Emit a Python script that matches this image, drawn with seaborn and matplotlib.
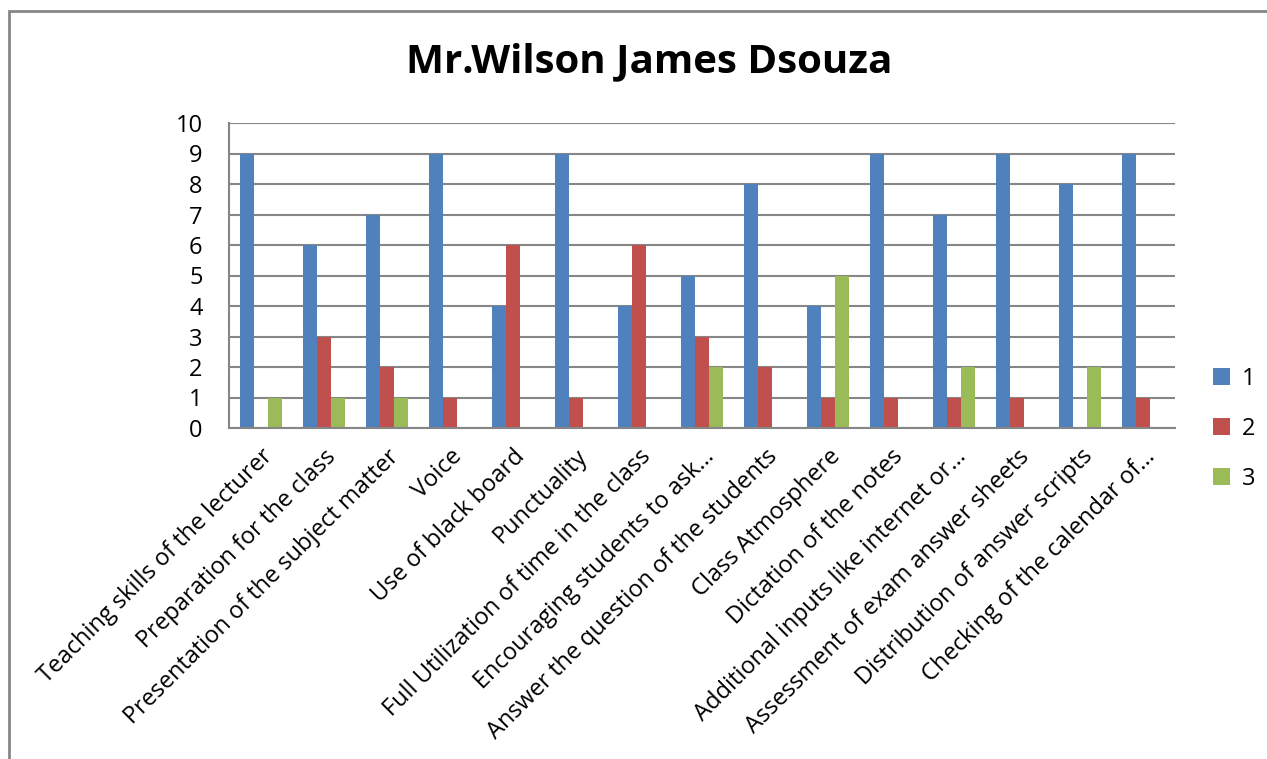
import matplotlib
matplotlib.use("Agg")
import matplotlib.pyplot as plt
import seaborn as sns
import pandas as pd
from matplotlib.patches import Rectangle

categories = [
    "Teaching skills of the lecturer",
    "Preparation for the class",
    "Presentation of the subject matter",
    "Voice",
    "Use of black board",
    "Punctuality",
    "Full Utilization of time in the class",
    "Encouraging students to ask…",
    "Answer the question of the students",
    "Class Atmosphere",
    "Dictation of the notes",
    "Additional inputs like internet or…",
    "Assessment of exam answer sheets",
    "Distribution of answer scripts",
    "Checking of the calendar of…",
]
series_1 = [9, 6, 7, 9, 4, 9, 4, 5, 8, 4, 9, 7, 9, 8, 9]
series_2 = [0, 3, 2, 1, 6, 1, 6, 3, 2, 1, 1, 1, 1, 0, 1]
series_3 = [1, 1, 1, 0, 0, 0, 0, 2, 0, 5, 0, 2, 0, 2, 0]
series_names = ["1", "2", "3"]
colors = ["#4F81BD", "#C0504D", "#9BBB59"]
title = "Mr.Wilson James Dsouza"

rows = []
for name, vals in zip(series_names, [series_1, series_2, series_3]):
    for c, v in zip(categories, vals):
        rows.append({"category": c, "series": name, "value": v})
df = pd.DataFrame(rows)

sns.set_theme(style="white")
plt.rcParams["font.family"] = ["Open Sans", "DejaVu Sans"]
plt.rcParams["text.color"] = "black"

fig = plt.figure(figsize=(12.67, 7.59), dpi=100)
ax = fig.add_axes([229/1267, 1 - 428/759, (1175-229)/1267, (428-123)/759])

sns.barplot(data=df, x="category", y="value", hue="series", order=categories,
            hue_order=series_names, palette=colors, width=0.667, gap=0,
            saturation=1, linewidth=0, ax=ax, legend=True)

ax.set_ylim(0, 10)
ax.set_yticks(range(0, 11))
ax.set_xlim(-0.5, len(categories) - 0.5)
ax.yaxis.grid(True, color="#868686", linewidth=1.5)
ax.set_axisbelow(True)
for s in ["top", "right"]:
    ax.spines[s].set_visible(False)
ax.spines["left"].set_color("#868686")
ax.spines["left"].set_linewidth(1.5)
ax.spines["bottom"].set_color("#868686")
ax.spines["bottom"].set_linewidth(1.5)
ax.tick_params(axis="both", length=0, labelsize=17, colors="black")
ax.tick_params(axis="y", pad=19)
ax.set_xlabel("")
ax.set_ylabel("")
plt.setp(ax.get_xticklabels(), rotation=45, ha="right", rotation_mode="anchor")
ax.tick_params(axis="x", pad=12)

handles, labels = ax.get_legend_handles_labels()
ax.legend_.remove()
fig.legend(handles, labels, loc="center left", bbox_to_anchor=(1192/1267, 1 - 429/759),
           frameon=False, fontsize=17, handlelength=0.7, handleheight=0.7,
           labelspacing=1.1, handletextpad=0.5)

fig.text(649/1267, 1 - 62/759, title, ha="center", va="center",
         fontsize=29, fontweight="bold")

fig.patches.append(Rectangle((9/1267, -0.1), 1.2, 1 - 11/759 + 0.1,
                             transform=fig.transFigure, fill=False,
                             edgecolor="#868686", linewidth=2, zorder=-1))

fig.savefig("out.png", dpi=100)
